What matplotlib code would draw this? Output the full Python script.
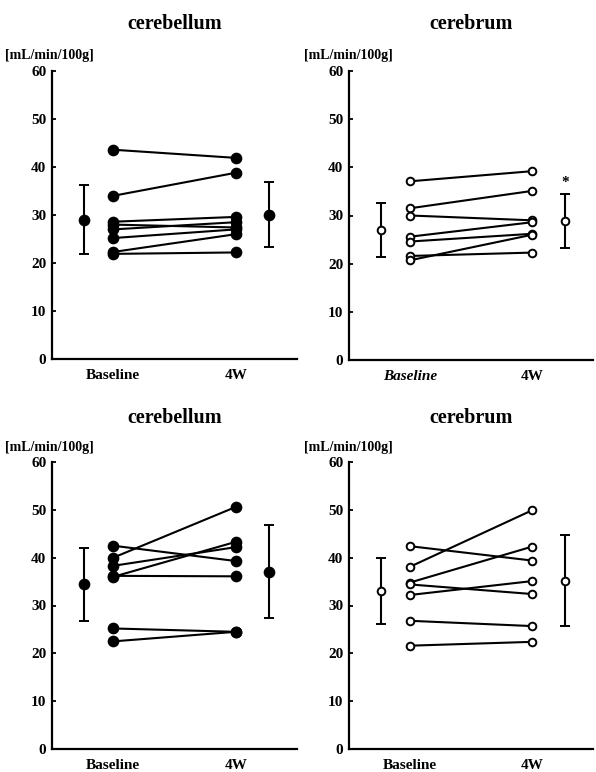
import matplotlib
matplotlib.use("Agg")
import matplotlib.pyplot as plt

plt.rcParams['font.family'] = ['Liberation Serif', 'DejaVu Serif']

# ---- data ----
titles = ["cerebellum", "cerebrum", "cerebellum", "cerebrum"]
time_labels = ["Baseline", "4W"]
ylabel = "[mL/min/100g]"
yticks = [0, 10, 20, 30, 40, 50, 60]

tl_base = [43.6, 34.0, 28.6, 28.0, 27.0, 25.2, 22.3, 21.9]
tl_4w = [41.9, 38.8, 29.6, 27.4, 28.5, 27.0, 26.0, 22.2]
tl_mean = [29.0, 30.1]
tl_err = [7.2, 6.7]

tr_base = [37.1, 31.5, 30.0, 25.6, 24.6, 21.6, 20.7]
tr_4w = [39.2, 35.1, 29.0, 28.6, 26.2, 22.3, 26.0]
tr_mean = [26.9, 28.9]
tr_err = [5.6, 5.6]

bl_base = [42.5, 40.0, 38.3, 36.0, 36.2, 25.2, 22.5]
bl_4w = [39.3, 50.6, 42.2, 43.3, 36.1, 24.5, 24.5]
bl_mean = [34.4, 37.1]
bl_err = [7.6, 9.8]

br_base = [42.4, 38.1, 34.8, 34.4, 32.2, 26.8, 21.6]
br_4w = [39.4, 49.9, 42.3, 32.4, 35.1, 25.7, 22.4]
br_mean = [33.1, 35.2]
br_err = [6.9, 9.5]

panels = [
    (tl_base, tl_4w, tl_mean, tl_err, True, False, False),
    (tr_base, tr_4w, tr_mean, tr_err, False, True, True),
    (bl_base, bl_4w, bl_mean, bl_err, True, False, False),
    (br_base, br_4w, br_mean, br_err, False, False, False),
]

W, H = 596, 772
fig = plt.figure(figsize=(W / 100, H / 100), dpi=100)

# axes rectangles in pixels: left, top, right, bottom
rects = [(52, 71, 297, 359), (349, 71, 593, 360),
         (52, 462, 297, 749), (349, 462, 593, 749)]
title_y = [24, 24, 418, 418]
ylab_pos = [(5, 55), (304, 55), (5, 448), (304, 448)]

for i, (rect, pdata) in enumerate(zip(rects, panels)):
    base, w4, mean, err, filled, star, italic = pdata
    l, t, r, b = rect
    ax = fig.add_axes([l / W, 1 - b / H, (r - l) / W, (b - t) / H])
    ax.set_xlim(0.5, 2.5)
    ax.set_ylim(0, 60)
    for sp in ['top', 'right']:
        ax.spines[sp].set_visible(False)
    for sp in ['left', 'bottom']:
        ax.spines[sp].set_linewidth(1.6)
    mfc = 'black' if filled else 'white'
    ms = 7 if filled else 5.5
    for y0, y1 in zip(base, w4):
        ax.plot([1, 2], [y0, y1], color='black', lw=1.5, marker='o', ms=ms,
                mfc=mfc, mec='black', mew=1.4, zorder=3, clip_on=False)
    ax.errorbar([0.76, 2.27], mean, yerr=err, fmt='o', color='black',
                ms=ms, mfc=mfc, mec='black', mew=1.4, elinewidth=1.5,
                capsize=3.5, capthick=1.5, zorder=3)
    if star:
        ax.text(2.27, mean[1] + err[1] + 1.0, "*", ha='center', va='bottom',
                fontsize=11, fontweight='bold')
    ax.set_yticks(yticks)
    ax.set_yticklabels([str(v) for v in yticks], fontsize=11, fontweight='bold')
    ax.tick_params(axis='y', direction='in', length=3, width=1.3, pad=4)
    ax.set_xticks([1, 2])
    ax.set_xticklabels(time_labels, fontsize=11, fontweight='bold')
    if italic:
        ax.get_xticklabels()[0].set_fontstyle('italic')
    ax.tick_params(axis='x', length=0, pad=7)
    fig.text((l + r) / 2 / W + 0.0, 1 - title_y[i] / H, titles[i],
             ha='center', va='center', fontsize=14.5, fontweight='bold')
    fig.text(ylab_pos[i][0] / W, 1 - ylab_pos[i][1] / H, ylabel,
             ha='left', va='center', fontsize=10, fontweight='bold')

fig.savefig("out.png", dpi=100)
